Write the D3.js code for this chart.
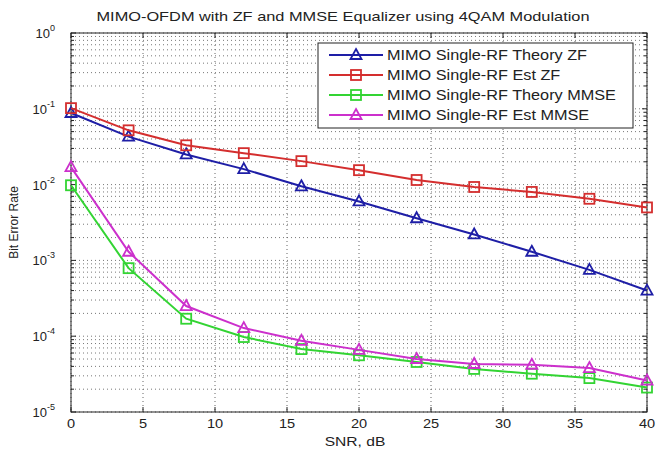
<!DOCTYPE html>
<html>
<head>
<meta charset="utf-8">
<script src="https://cdn.jsdelivr.net/npm/d3@7"></script>
<style>
  body { margin: 0; background: #fff; }
  text { font-family: "Liberation Sans", Arial, sans-serif; fill: #222; }
</style>
</head>
<body>
<div id="chart"></div>
<script>
// SNR points and BER curves
const snr = [0, 4, 8, 12, 16, 20, 24, 28, 32, 36, 40];
const theoryZF   = [0.088, 0.043, 0.025, 0.016, 0.0095, 0.006, 0.0036, 0.0022, 0.0013, 0.00075, 0.0004];
const estZF      = [0.102, 0.052, 0.033, 0.026, 0.0204, 0.0155, 0.0115, 0.0093, 0.008, 0.0065, 0.005];
const theoryMMSE = [0.0098, 0.00079, 0.00017, 0.0000975, 0.0000676, 0.000056, 0.0000457, 0.000037, 0.000032, 0.000028, 0.000021];
const estMMSE    = [0.017, 0.0013, 0.00025, 0.000128, 0.000087, 0.000066, 0.00005, 0.000043, 0.000042, 0.000038, 0.000026];

const seriesNames = ['MIMO Single-RF Theory ZF', 'MIMO Single-RF Est ZF', 'MIMO Single-RF Theory MMSE', 'MIMO Single-RF Est MMSE'];
const seriesValues = [theoryZF, estZF, theoryMMSE, estMMSE];
const seriesColors = ['#1e1ea6', '#d42e2e', '#33d433', '#cc30cc'];
const seriesMarkers = ['triangle', 'square', 'square', 'triangle'];

const xTicks = [0, 5, 10, 15, 20, 25, 30, 35, 40];
const yExps = [0, -1, -2, -3, -4, -5];

const W = 657, H = 450;
const mg = {top: 33, right: 10, bottom: 38, left: 71};
const wd = W - mg.left - mg.right;
const ht = H - mg.top - mg.bottom;

const svg = d3.select('#chart').append('svg')
    .attr('width', W)
    .attr('height', H);

const g = svg.append('g')
    .attr('transform', 'translate(' + mg.left + ',' + mg.top + ')');

const x = d3.scaleLinear().domain([0, 40]).range([0, wd]);
const y = d3.scaleLog().domain([1e-5, 1]).range([ht, 0]);

// text in the picture is a bit wider than the font, stretch it
function stretch(sel, k) {
    sel.each(function() {
        const len = this.getComputedTextLength();
        d3.select(this).attr('textLength', len * k).attr('lengthAdjust', 'spacingAndGlyphs');
    });
}

g.append('rect').attr('width', wd).attr('height', ht).attr('fill', '#fff');

// grid: major + minor, MATLAB style dotted
let minorY = [];
for (let e = -5; e < 0; e++) {
    for (let m = 2; m <= 9; m++) minorY.push(m * Math.pow(10, e));
}
g.selectAll('.gy').data(minorY.concat(yExps.map(e => Math.pow(10, e)))).enter()
    .append('line')
    .attr('x1', 0).attr('x2', wd)
    .attr('y1', d => y(d)).attr('y2', d => y(d))
    .attr('stroke', '#777').attr('stroke-width', 1)
    .attr('stroke-dasharray', '1,3');

g.selectAll('.gx').data(xTicks).enter()
    .append('line')
    .attr('x1', d => x(d)).attr('x2', d => x(d))
    .attr('y1', 0).attr('y2', ht)
    .attr('stroke', '#666').attr('stroke-width', 1)
    .attr('stroke-dasharray', '1,3');

// box
g.append('rect').attr('width', wd).attr('height', ht)
    .attr('fill', 'none').attr('stroke', '#222').attr('stroke-width', 1);

// ticks (inward)
xTicks.forEach(t => {
    g.append('line').attr('x1', x(t)).attr('x2', x(t)).attr('y1', ht).attr('y2', ht - 5).attr('stroke', '#222');
    g.append('line').attr('x1', x(t)).attr('x2', x(t)).attr('y1', 0).attr('y2', 5).attr('stroke', '#222');
});
minorY.forEach(t => {
    g.append('line').attr('x1', 0).attr('x2', 3).attr('y1', y(t)).attr('y2', y(t)).attr('stroke', '#222');
    g.append('line').attr('x1', wd).attr('x2', wd - 3).attr('y1', y(t)).attr('y2', y(t)).attr('stroke', '#222');
});
yExps.forEach(e => {
    const v = Math.pow(10, e);
    g.append('line').attr('x1', 0).attr('x2', 5).attr('y1', y(v)).attr('y2', y(v)).attr('stroke', '#222');
    g.append('line').attr('x1', wd).attr('x2', wd - 5).attr('y1', y(v)).attr('y2', y(v)).attr('stroke', '#222');
});

// tick labels
const xl = g.selectAll('.xl').data(xTicks).enter().append('text')
    .attr('x', d => x(d)).attr('y', ht + 16)
    .attr('text-anchor', 'middle').attr('font-size', 13)
    .text(d => d);
stretch(xl, 1.12);

const yl = g.selectAll('.yl').data(yExps).enter().append('text')
    .attr('x', -16).attr('y', d => y(Math.pow(10, d)) + 5)
    .attr('text-anchor', 'end').attr('font-size', 13);
yl.append('tspan').text('10');
yl.append('tspan').attr('dy', -7).attr('font-size', 9).text(d => d);

// curves
const line = d3.line().x(d => x(d[0])).y(d => y(d[1]));

function drawMarker(sel, type, color) {
    if (type === 'triangle') {
        sel.append('path').attr('d', 'M0,-6L5.5,4L-5.5,4Z')
            .attr('fill', 'none').attr('stroke', color).attr('stroke-width', 1.8);
    } else {
        sel.append('rect').attr('x', -5).attr('y', -5).attr('width', 10).attr('height', 10)
            .attr('fill', 'none').attr('stroke', color).attr('stroke-width', 1.8);
    }
}

seriesValues.forEach((vals, k) => {
    const pts = snr.map((s, i) => [s, vals[i]]);
    g.append('path').datum(pts)
        .attr('d', line)
        .attr('fill', 'none')
        .attr('stroke', seriesColors[k])
        .attr('stroke-width', 2);
    pts.forEach(p => {
        const m = g.append('g').attr('transform', 'translate(' + x(p[0]) + ',' + y(p[1]) + ')');
        drawMarker(m, seriesMarkers[k], seriesColors[k]);
    });
});

// legend
const lg = svg.append('g').attr('transform', 'translate(318,43)');
lg.append('rect').attr('width', 315).attr('height', 85)
    .attr('fill', '#fff').attr('stroke', '#222').attr('stroke-width', 1);
seriesNames.forEach((n, k) => {
    const yy = 12 + k * 20;
    lg.append('line').attr('x1', 11).attr('x2', 65).attr('y1', yy).attr('y2', yy)
        .attr('stroke', seriesColors[k]).attr('stroke-width', 2);
    const m = lg.append('g').attr('transform', 'translate(38,' + yy + ')');
    drawMarker(m, seriesMarkers[k], seriesColors[k]);
    const t = lg.append('text').attr('x', 69).attr('y', yy + 5).attr('font-size', 14).text(n);
    stretch(t, 1.16);
});

// title and axis labels
const title = svg.append('text').attr('x', 343).attr('y', 21)
    .attr('text-anchor', 'middle').attr('font-size', 13)
    .text('MIMO-OFDM with ZF and MMSE Equalizer using 4QAM Modulation');
title.attr('textLength', 493).attr('lengthAdjust', 'spacingAndGlyphs');
const xlab = svg.append('text').attr('x', 355).attr('y', 446)
    .attr('text-anchor', 'middle').attr('font-size', 13)
    .text('SNR, dB');
stretch(xlab, 1.2);
svg.append('text').attr('transform', 'translate(18,' + (mg.top + ht / 2) + ') rotate(-90)')
    .attr('text-anchor', 'middle').attr('font-size', 12)
    .text('Bit Error Rate');
</script>
</body>
</html>
